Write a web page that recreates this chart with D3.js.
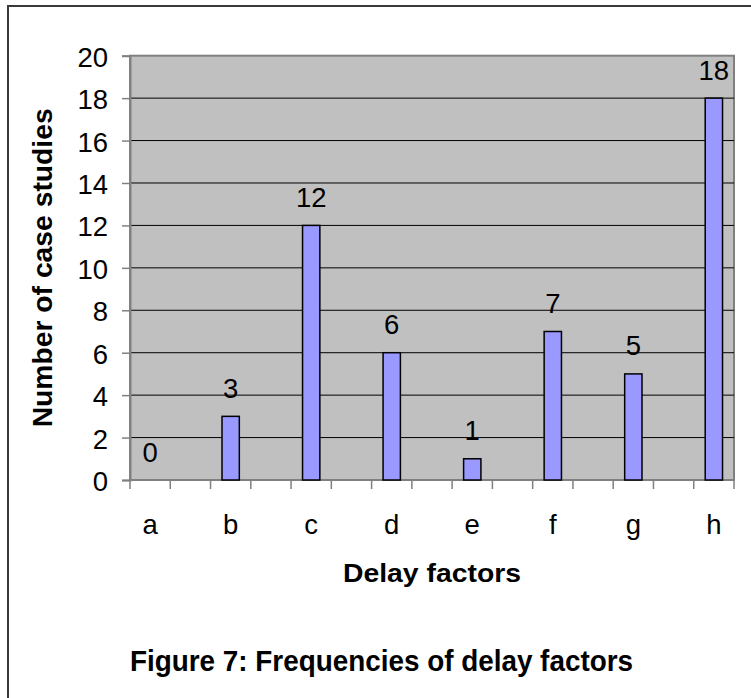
<!DOCTYPE html>
<html>
<head>
<meta charset="utf-8">
<script src="https://cdn.jsdelivr.net/npm/d3@7/dist/d3.min.js"></script>
<style>
  html, body { margin: 0; padding: 0; background: #fff; }
  svg { display: block; font-family: "Liberation Sans", Arial, Helvetica, sans-serif; }
</style>
</head>
<body>
<svg id="chart" width="751" height="698"></svg>
<script>
// Delay factors and how many case studies reported each
const categories = ["a", "b", "c", "d", "e", "f", "g", "h"];
const caseCounts = [0, 3, 12, 6, 1, 7, 5, 18];
const yTicks = [0, 2, 4, 6, 8, 10, 12, 14, 16, 18, 20];
const yTitle = "Number of case studies";
const xTitle = "Delay factors";
const figureTitle = "Figure 7: Frequencies of delay factors";

const labelSize = 27.5;
const svg = d3.select("#chart");
const plot = { left: 130, top: 55.7, right: 734, bottom: 480 };

// Each factor sits in its own slot, with an empty slot between neighbours
const slots = categories.flatMap((c, i) => i < categories.length - 1 ? [c, c + "\u2009gap"] : [c]);
const x = d3.scaleBand().domain(slots).range([plot.left, plot.right]).padding(0);
const y = d3.scaleLinear().domain([0, 20]).range([plot.bottom, plot.top]);

// Outer frame
svg.append("rect")
  .attr("x", 8).attr("y", 6).attr("width", 800).attr("height", 800)
  .attr("fill", "none").attr("stroke", "#3a3a3a").attr("stroke-width", 2);

// Plot background
svg.append("rect")
  .attr("x", plot.left).attr("y", plot.top)
  .attr("width", plot.right - plot.left).attr("height", plot.bottom - plot.top)
  .attr("fill", "#c0c0c0").attr("stroke", "#808080").attr("stroke-width", 2);

// Horizontal gridlines
svg.append("g").selectAll("line")
  .data(yTicks.filter(t => t > 0 && t < 20))
  .join("line")
  .attr("x1", plot.left).attr("x2", plot.right)
  .attr("y1", d => y(d)).attr("y2", d => y(d))
  .attr("stroke", "#000").attr("stroke-width", 1);

// Y axis
const yAxis = svg.append("g")
  .attr("transform", `translate(${plot.left},0)`)
  .call(d3.axisLeft(y).tickValues(yTicks).tickSize(8).tickPadding(14));
yAxis.attr("font-size", labelSize).attr("font-family", null);
yAxis.select(".domain").attr("stroke", "#808080").attr("stroke-width", 2);
yAxis.selectAll(".tick line").attr("stroke", "#808080").attr("stroke-width", 1.5);
yAxis.selectAll(".tick text")
  .attr("font-size", labelSize).attr("fill", "#000").attr("dy", "0.38em");

// X axis baseline and slot-boundary ticks
const boundaries = slots.map(s => x(s)).concat([x.range()[1]]);
svg.append("line")
  .attr("x1", plot.left).attr("x2", plot.right)
  .attr("y1", plot.bottom).attr("y2", plot.bottom)
  .attr("stroke", "#808080").attr("stroke-width", 2);
svg.append("g").selectAll("line")
  .data(boundaries)
  .join("line")
  .attr("x1", d => d).attr("x2", d => d)
  .attr("y1", plot.bottom).attr("y2", plot.bottom + 9)
  .attr("stroke", "#808080").attr("stroke-width", 1.5);

// Category labels
svg.append("g").selectAll("text")
  .data(categories)
  .join("text")
  .attr("x", d => x(d) + x.bandwidth() / 2)
  .attr("y", 533.5)
  .attr("text-anchor", "middle")
  .attr("font-size", labelSize)
  .text(d => d);

// Bars
const barW = x.bandwidth() * 0.43;
const data = categories.map((c, i) => ({ c, v: caseCounts[i] }));
svg.append("g").selectAll("rect")
  .data(data.filter(d => d.v > 0))
  .join("rect")
  .attr("x", d => x(d.c) + (x.bandwidth() - barW) / 2)
  .attr("y", d => y(d.v))
  .attr("width", barW)
  .attr("height", d => y(0) - y(d.v))
  .attr("fill", "#9999ff")
  .attr("stroke", "#000").attr("stroke-width", 1.5);

// Value labels
svg.append("g").selectAll("text")
  .data(data)
  .join("text")
  .attr("x", d => x(d.c) + x.bandwidth() / 2)
  .attr("y", d => y(d.v) - 18.5)
  .attr("text-anchor", "middle")
  .attr("font-size", labelSize)
  .text(d => d.v);

// Axis titles
svg.append("text")
  .attr("transform", `translate(51.5,${(plot.top + plot.bottom) / 2}) rotate(-90)`)
  .attr("text-anchor", "middle")
  .attr("font-size", 27).attr("font-weight", "bold")
  .attr("textLength", 319).attr("lengthAdjust", "spacingAndGlyphs")
  .text(yTitle);

svg.append("text")
  .attr("x", (plot.left + plot.right) / 2).attr("y", 581.5)
  .attr("text-anchor", "middle")
  .attr("font-size", 26).attr("font-weight", "bold")
  .attr("textLength", 178).attr("lengthAdjust", "spacingAndGlyphs")
  .text(xTitle);

// Figure caption
svg.append("text")
  .attr("x", 381.5).attr("y", 671)
  .attr("text-anchor", "middle")
  .attr("font-size", 30).attr("font-weight", "bold")
  .attr("textLength", 503).attr("lengthAdjust", "spacingAndGlyphs")
  .text(figureTitle);
</script>
</body>
</html>
